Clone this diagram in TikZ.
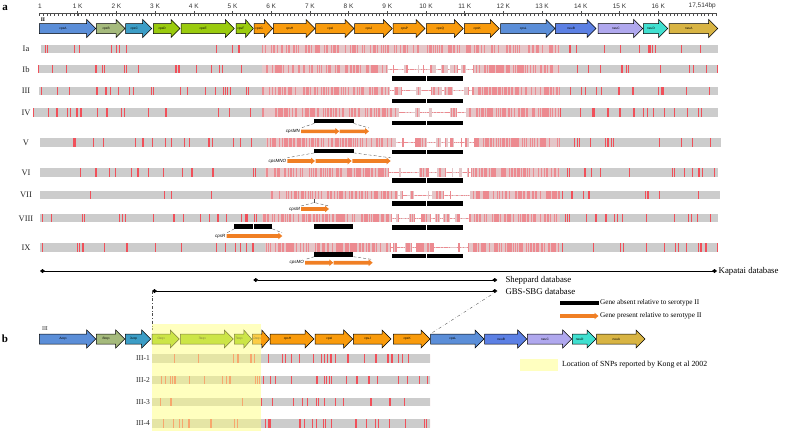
\documentclass[tikz,border=0pt]{standalone}
\usepackage{fontspec}
\setmainfont{Liberation Serif}
\setsansfont{Liberation Sans}
\usepackage{graphicx}
\usetikzlibrary{arrows.meta,positioning,shapes}

\definecolor{gA}{HTML}{5B8ED8}
\definecolor{gB}{HTML}{A5BA7C}
\definecolor{gC}{HTML}{3C9DC6}
\definecolor{gD}{HTML}{9ACB0E}
\definecolor{gH}{HTML}{F99B0C}
\definecolor{nB}{HTML}{5C80E4}
\definecolor{nC}{HTML}{B0A8EE}
\definecolor{nD}{HTML}{40E0D0}
\definecolor{nA}{HTML}{D8B443}
\definecolor{ins}{HTML}{F07F24}
\definecolor{snpgrey}{HTML}{CCCCCC}
\definecolor{snpred}{HTML}{F0505A}
\definecolor{snpsoft}{HTML}{EC8A90}
\definecolor{snppink}{HTML}{E4C6C8}
\definecolor{kong}{HTML}{FFFF80}
\definecolor{konglight}{HTML}{FFFFC0}

% gene arrow: name, start, end, y, colour, label
\newcommand{\gene}[6]{%
  \pgfmathsetmacro{\hx}{#3-min(9,0.45*(#3-#2))}
  \draw[genebox,fill=#5] (#2,#4-5) -- (\hx,#4-5) -- (\hx,#4-9) -- (#3,#4)
    -- (\hx,#4+9) -- (\hx,#4+5) -- (#2,#4+5) -- cycle;
  \node[genetext] (#1) at ({(#2+\hx)/2},#4) {#6};
}

% inserted gene: start, end, y
\newcommand{\insgene}[3]{%
  \pgfmathsetmacro{\hx}{#2-4}
  \fill[ins] (#1,#3-1.8) -- (\hx,#3-1.8) -- (\hx,#3-3.3) -- (#2,#3)
    -- (\hx,#3+3.3) -- (\hx,#3+1.8) -- (#1,#3+1.8) -- cycle;
}

% absent genes: start, end, y
\newcommand{\absent}[3]{%
  \fill[black] (#1,#3-2.2) rectangle (#2,#3+2.2);
}

% snp track: name, y, start, end, dense from, dense to, n sparse, n dense, n gaps
\newcommand{\snprow}[9]{%
  \fill[snpgrey] (#3,#2-4.1) rectangle (#4,#2+4.1);
  \fill[snppink] (#5,#2-4.1) rectangle (#6,#2+4.1);
  \coordinate (#1) at (#3,#2);
  \pgfmathtruncatemacro{\sd}{#2*10}
  \pgfmathsetseed{\sd}
  \foreach \k in {1,...,#7} {
    \pgfmathsetmacro{\sx}{#3+rnd*((#5-#3)+(#4-#6))}
    \pgfmathsetmacro{\sx}{\sx>#5 ? \sx+(#6-#5) : \sx}
    \fill[snpred] (\sx-0.55,#2-4.1) rectangle (\sx+0.55,#2+4.1);
  }
  \ifnum#8>0
  \foreach \k in {1,...,#8} {
    \pgfmathsetmacro{\sx}{#5+rnd*(#6-#5)}
    \fill[snpsoft] (\sx-0.4,#2-4.1) rectangle (\sx+0.4,#2+4.1);
  }
  \fi
  \ifnum#9>0
  \foreach \k in {1,...,#9} {
    \pgfmathsetmacro{\sx}{388+rnd*82}
    \pgfmathsetmacro{\sw}{2+rnd*5}
    \fill[white] (\sx,#2-4.3) rectangle (\sx+\sw,#2-0.5);
    \fill[white] (\sx,#2+0.5) rectangle (\sx+\sw,#2+4.3);
  }
  \fi
}

\begin{document}
\begin{tikzpicture}[x=1pt,y=-1pt,
  genebox/.style={draw=black,line width=0.5pt},
  genetext/.style={font=\sffamily\fontsize{3.2}{3.2}\selectfont,inner sep=0pt},
  ruletext/.style={font=\sffamily\fontsize{6.5}{6.5}\selectfont,text=black!80,inner sep=1pt},
  rowlabel/.style={font=\fontsize{8.5}{8.5}\selectfont,text=black!85,inner sep=0pt},
  panel/.style={font=\bfseries\fontsize{11}{11}\selectfont,inner sep=0pt},
  gapline/.style={densely dashed,line width=0.35pt,draw=black!70},
  linkline/.style={dash dot,line width=0.35pt,draw=black!70},
  dbline/.style={line width=0.8pt,{Diamond[length=5pt,width=4pt]}-{Diamond[length=5pt,width=4pt]}},
  dbtext/.style={font=\fontsize{8.8}{8.8}\selectfont,inner sep=0pt},
  legtext/.style={font=\fontsize{7.2}{7.2}\selectfont,inner sep=0pt},
  instext/.style={font=\sffamily\itshape\fontsize{4.5}{4.5}\selectfont,inner sep=0pt}]

  \useasboundingbox (0,0) rectangle (788,431);

  % panel a: ruler
  \node[panel] (pa) at (5,8) {a};
  \draw[line width=0.5pt,black!70] (39,13.5) -- (717,13.5);
  \foreach \t in {0,...,175} {
    \draw[line width=0.3pt,black!70] ({39+\t*3.87},13.5) -- ({39+\t*3.87},15.8);
  }
  \foreach \k in {1,...,16} {
    \draw[line width=0.5pt,black!70] ({39+\k*38.7},11) -- ({39+\k*38.7},15.8);
    \node[ruletext] (k\k) at ({39+\k*38.7},6) {\k\ K};
  }
  \node[ruletext] (k0) at (40,6) {1};
  \node[ruletext,anchor=east] (kend) at (717,6) {17,514bp};
  \node[font=\bfseries\fontsize{5.5}{5.5}\selectfont,inner sep=0pt] (refII) at (43,19.5) {II};

  % serotype II genes
  \foreach \n/\s/\e/\c/\l in {aA/39.3/95.7/gA/cpsA, aB/96.3/125/gB/cpsB,
      aC/125.7/151.7/gC/cpsC, aD/153.3/180/gD/cpsD, aE/181/234.3/gD/cpsE,
      aF/236/253.3/gD/cpsF, aG/254/272.7/gH/cpsG, aH/273.3/315/gH/cpsH,
      aI/315.7/354/gH/cpsI, aJ/354.7/392.3/gH/cpsJ, aP/393/425/gH/cpsP,
      aQ/426.3/463.3/gH/cpsQ, aK/464.3/499.3/gH/cpsK, aL/500.7/555/gA/cpsL,
      aNB/555.3/596/nB/neuB, aNC/598/642.7/nC/neuC, aND/643.3/667.7/nD/neuD,
      aNA/669/717.7/nA/neuA} {
    \gene{\n}{\s}{\e}{28.5}{\c}{\l}
  }

  % snp tracks
  \snprow{tIa}{49.2}{40.7}{718}{262}{560}{22}{150}{0}
  \snprow{tIb}{69.2}{37.7}{718}{262}{560}{28}{190}{14}
  \snprow{tIII}{90.8}{39}{718}{262}{560}{40}{200}{14}
  \snprow{tIV}{112.5}{33.3}{718}{262}{560}{40}{200}{14}
  \snprow{tV}{142.5}{40}{720.5}{266}{560}{32}{220}{12}
  \snprow{tVI}{172.5}{40}{718}{265}{560}{30}{210}{18}
  \snprow{tVII}{195}{40}{719.5}{270}{560}{12}{190}{16}
  \snprow{tVIII}{218.3}{40}{718}{262}{560}{36}{200}{16}
  \snprow{tIX}{247.5}{40}{718}{265}{560}{32}{220}{14}

  \foreach \n/\y/\l in {Ia/49.2/Ia, Ib/69.2/Ib, III/90.8/III, IV/112.5/IV, V/142.5/V,
      VI/172.5/VI, VII/195/VII, VIII/218.3/VIII, IX/247.5/IX} {
    \node[rowlabel] (l\n) at (26,\y) {\l};
  }

  % cpsP and cpsQ absent
  \foreach \y in {78.5,100.8,123,152,180.3,203.5,227.5,255.8} {
    \absent{391.7}{463.3}{\y}
    \draw[white,line width=0.6pt] (426,\y-2.4) -- (426,\y+2.4);
  }

  % IV: cpsMN
  \absent{314.3}{353.7}{121.2}
  \insgene{301}{339.3}{131.3}
  \insgene{339.6}{369}{131.3}
  \coordinate (ivA) at (314.3,123.4); \coordinate (ivB) at (353.7,123.4);
  \coordinate (ivC) at (301,128); \coordinate (ivD) at (369,128);
  \draw[gapline] (ivA) -- (ivC);
  \draw[gapline] (ivB) -- (ivD);
  \node[instext,anchor=east] (mn) at (300,131.3) {cpsMN};

  % V: cpsMNO
  \absent{314.3}{353.7}{150.7}
  \insgene{287.3}{315}{161}
  \insgene{315.6}{351.7}{161}
  \insgene{352.3}{390.7}{161}
  \coordinate (vA) at (314.3,152.9); \coordinate (vB) at (353.7,152.9);
  \coordinate (vC) at (287.3,157.8); \coordinate (vD) at (390.7,157.8);
  \draw[gapline] (vA) -- (vC);
  \draw[gapline] (vB) -- (vD);
  \node[instext,anchor=east] (mno) at (286.3,161) {cpsMNO};

  % VII: cpsM
  \insgene{301}{329}{209}
  \coordinate (viiT) at (314.3,199); \coordinate (viiA) at (314.3,202.5);
  \coordinate (viiC) at (301,206); \coordinate (viiD) at (329,206);
  \draw[gapline] (viiC) -- (viiA) -- (viiD);
  \draw[line width=0.35pt,black!70] (viiT) -- (viiA);
  \node[instext,anchor=east] (m) at (300,209) {cpsM};

  % VIII: cpsR
  \absent{234.3}{272.3}{226.6}
  \draw[white,line width=0.6pt] (253.3,224.2) -- (253.3,229);
  \absent{314.3}{353.3}{226.3}
  \insgene{226.7}{282.3}{236}
  \coordinate (viiiA) at (234.3,228.8); \coordinate (viiiB) at (272.3,228.8);
  \coordinate (viiiC) at (227,232.8); \coordinate (viiiD) at (282,232.8);
  \draw[gapline] (viiiA) -- (viiiC);
  \draw[gapline] (viiiB) -- (viiiD);
  \node[instext,anchor=east] (r) at (225.5,236) {cpsR};

  % IX: cpsMO
  \absent{314.3}{353.3}{254.5}
  \insgene{305}{333.3}{262.7}
  \insgene{333.7}{372.7}{262.7}
  \coordinate (ixA) at (314.3,256.7); \coordinate (ixB) at (353.3,256.7);
  \coordinate (ixC) at (305,259.5); \coordinate (ixD) at (372.7,259.5);
  \draw[gapline] (ixA) -- (ixC);
  \draw[gapline] (ixB) -- (ixD);
  \node[instext,anchor=east] (mo) at (304,262.7) {cpsMO};

  % databases
  \coordinate (kapL) at (40,271); \coordinate (kapR) at (717,271);
  \coordinate (shpL) at (253.3,280); \coordinate (shpR) at (497.3,280);
  \coordinate (gbsL) at (152,291); \coordinate (gbsR) at (497.3,291);
  \draw[dbline] (kapL) -- (kapR);
  \draw[dbline] (shpL) -- (shpR);
  \draw[dbline] (gbsL) -- (gbsR);
  \node[dbtext,right=1.5pt of kapR] (kapT) {Kapatai database};
  \node[dbtext,right=8pt of shpR] (shpT) {Sheppard database};
  \node[dbtext,right=8pt of gbsR] (gbsT) {GBS-SBG database};

  % legend
  \fill[black] (560,301) rectangle (598.5,305.2);
  \coordinate (legA) at (598.5,303.2);
  \node[legtext,right=1.5pt of legA] (legAT) {Gene absent relative to serotype II};
  \insgene{560}{598.5}{316}
  \coordinate (legP) at (598.5,316);
  \node[legtext,right=1.5pt of legP] (legPT) {Gene present relative to serotype II};

  % panel b
  \node[panel] (pb) at (5,339) {b};
  \node[font=\fontsize{6}{6}\selectfont,text=black!80,inner sep=0pt] (refIII) at (45,328.5) {III};
  \foreach \n/\s/\e/\c/\l in {bA/39.3/95.7/gA/{\reflectbox{cpsA}}, bB/96.3/124.7/gB/{\reflectbox{cpsB}},
      bC/125.3/150.7/gC/{\reflectbox{cpsC}}, bD/152/179.3/gD/{\reflectbox{cpsD}},
      bE/180.3/233.3/gD/{\reflectbox{cpsE}}, bF/234.3/251.7/gD/{\reflectbox{cpsF}},
      bG/252.3/269.5/gH/{\reflectbox{cpsG}}, bH/270/314/gH/cpsH, bI/315/352.7/gH/cpsI,
      bJ/353.3/391/gH/cpsJ, bK/393.3/430/gH/cpsK, bL/430.7/484/gA/cpsL,
      bNB/484.7/526.7/nB/neuB, bNC/527.3/571.7/nC/neuC, bND/572.3/596/nD/neuD,
      bNA/596.7/645/nA/neuA} {
    \gene{\n}{\s}{\e}{339}{\c}{\l}
  }
  \coordinate (bDtop) at (152,330); \coordinate (bLtop) at (431,333.5);
  \draw[linkline] (gbsL) -- (bDtop);
  \draw[linkline] (gbsR) -- (bLtop);

  \snprow{t1}{358.5}{152}{430}{430}{430}{30}{0}{0}
  \snprow{t2}{380.2}{152}{430}{430}{430}{32}{0}{0}
  \snprow{t3}{402.2}{152}{430}{430}{430}{18}{0}{0}
  \snprow{t4}{423.5}{152}{430}{430}{430}{32}{0}{0}
  \foreach \n/\y in {1/358.5, 2/380.2, 3/402.2, 4/423.5} {
    \node[rowlabel,anchor=east,font=\fontsize{7.5}{7.5}\selectfont] (l3\n) at (150,\y) {III-\n};
  }

  % Kong et al region
  \fill[kong,opacity=0.5] (151.7,324) rectangle (261,431);
  \fill[konglight] (520,358.5) rectangle (558.3,370.5);
  \coordinate (legK) at (558.3,364.5);
  \node[legtext,font=\fontsize{7.8}{7.8}\selectfont,right=3.5pt of legK] (legKT) {Location of SNPs reported by Kong et al 2002};
\end{tikzpicture}
\end{document}
